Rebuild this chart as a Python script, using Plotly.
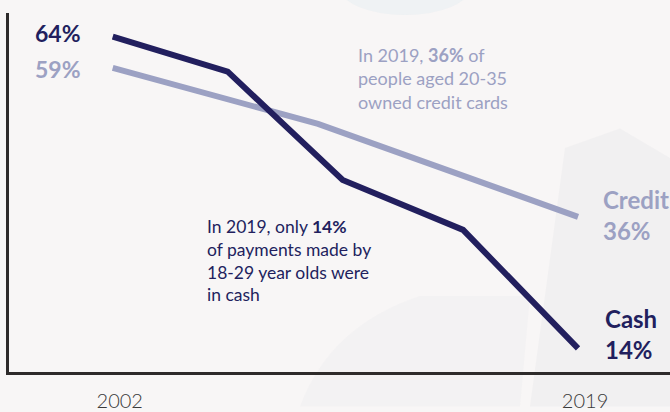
import plotly.graph_objects as go

# ---- data ----
cash_years = [2002, 2006.2, 2010.4, 2014.8, 2019]
cash_values = [64, 58.4, 41.0, 33.0, 14]
credit_years = [2002, 2009.5, 2019]
credit_values = [59, 50.0, 35.1]
tick_years = [2002, 2019]
tick_labels = ["2002", "2019"]
start_labels = ["64%", "59%"]
end_labels = ["Cash<br>14%", "Credit<br>36%"]
note_credit = "In 2019, <b>36%</b> of<br>people aged 20-35<br>owned credit cards"
note_cash = "In 2019, only <b>14%</b><br>of payments made by<br>18-29 year olds were<br>in cash"

NAVY = "#221f5e"
LIGHT = "#9ca1c3"
W, H = 670, 412
ML, MR, MT, MB = 9, 0, 13, 35


def px(x):
    return (x - ML) / (W - ML - MR)


def py(y):
    return 1 - (y - MT) / (H - MT - MB)


fig = go.Figure()
fig.add_trace(go.Scatter(x=credit_years, y=credit_values, mode="lines",
                         line=dict(color=LIGHT, width=6), name="Credit",
                         hoverinfo="skip"))
fig.add_trace(go.Scatter(x=cash_years, y=cash_values, mode="lines",
                         line=dict(color=NAVY, width=6), name="Cash",
                         hoverinfo="skip"))

ann = []
ann.append(dict(text=f"<b>{start_labels[0]}</b>", x=px(58), y=py(33), xanchor="center", yanchor="middle",
                font=dict(family="Lato", size=23, color=NAVY)))
ann.append(dict(text=f"<b>{start_labels[1]}</b>", x=px(58), y=py(70), xanchor="center", yanchor="middle",
                font=dict(family="Lato", size=23, color=LIGHT)))
ann.append(dict(text=f"<b>{end_labels[1]}</b>", x=px(601), y=py(218), xanchor="left", yanchor="middle",
                align="left", font=dict(family="Lato", size=24, color=LIGHT)))
ann.append(dict(text=f"<b>{end_labels[0]}</b>", x=px(603), y=py(338), xanchor="left", yanchor="middle",
                align="left", font=dict(family="Lato", size=24, color=NAVY)))
ann.append(dict(text=note_credit, x=px(356), y=py(79), xanchor="left", yanchor="middle",
                align="left", font=dict(family="Lato", size=18, color=LIGHT)))
ann.append(dict(text=note_cash, x=px(205), y=py(264), xanchor="left", yanchor="middle",
                align="left", font=dict(family="Lato", size=17.5, color=NAVY)))
for a in ann:
    a.update(xref="paper", yref="paper", showarrow=False)

shapes = [
    dict(type="circle", xref="paper", yref="paper", x0=px(340), x1=px(470), y0=py(15), y1=py(-40),
         fillcolor="#e6edf2", opacity=0.5, line=dict(width=0), layer="below"),
    dict(type="path", xref="paper", yref="paper",
         path=f"M {px(530)},{py(412)} L {px(565)},{py(150)} L {px(620)},{py(130)} L {px(670)},{py(160)} L {px(670)},{py(412)} Z",
         fillcolor="#e9e9ea", opacity=0.45, line=dict(width=0), layer="below"),
    dict(type="path", xref="paper", yref="paper",
         path=f"M {px(300)},{py(412)} Q {px(330)},{py(330)} {px(420)},{py(300)} L {px(530)},{py(300)} L {px(520)},{py(412)} Z",
         fillcolor="#ececee", opacity=0.35, line=dict(width=0), layer="below"),
]

fig.update_layout(
    width=W, height=H,
    margin=dict(l=ML, r=MR, t=MT, b=MB),
    paper_bgcolor="#f8f6f6", plot_bgcolor="rgba(0,0,0,0)",
    showlegend=False,
    annotations=ann,
    shapes=shapes,
    xaxis=dict(range=[1998.21, 2022.36], showgrid=False, zeroline=False,
               showline=True, linecolor="#2e2b2b", linewidth=3,
               tickvals=tick_years, ticktext=tick_labels, ticks="",
               tickfont=dict(family="Lato", size=20, color="#3a3a3a", weight=300),
               ticklabelstandoff=9, ticklabelshift=7, fixedrange=True),
    yaxis=dict(range=[10.2, 67.8], showgrid=False, zeroline=False,
               showline=True, linecolor="#2e2b2b", linewidth=3,
               showticklabels=False, ticks="", fixedrange=True),
)

fig.write_html("out.html", config={"displayModeBar": False},
               post_script="document.body.style.margin='0';document.body.style.overflow='hidden';")
